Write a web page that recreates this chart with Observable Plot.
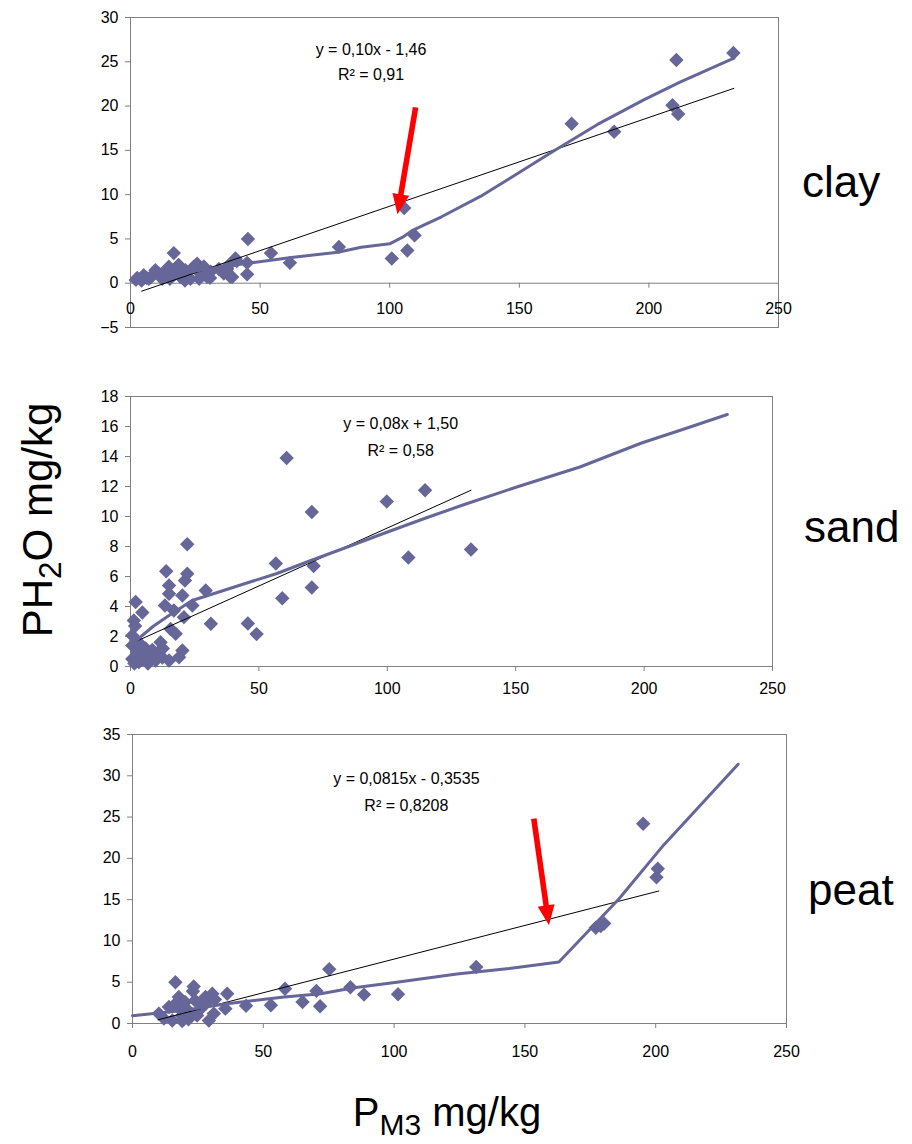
<!DOCTYPE html>
<html><head><meta charset="utf-8">
<script src="https://cdn.jsdelivr.net/npm/d3@7"></script>
<script src="https://cdn.jsdelivr.net/npm/@observablehq/plot@0.6"></script>
<style>
body{margin:0;background:#fff;}
#wrap{position:relative;width:912px;height:1144px;overflow:hidden;font-family:"Liberation Sans",Arial,sans-serif;color:#000;}
.panel{position:absolute;left:0;}
.lab{position:absolute;font-size:44px;line-height:1;white-space:nowrap;}
</style></head><body><div id="wrap"></div>
<script>
// ---------- DATA ----------
const xTicks = [0, 50, 100, 150, 200, 250];
const clayYTicks = [-5, 0, 5, 10, 15, 20, 25, 30];
const sandYTicks = [0, 2, 4, 6, 8, 10, 12, 14, 16, 18];
const peatYTicks = [0, 5, 10, 15, 20, 25, 30, 35];

const clayPoints = [[2.1,0.4],[2.6,0.6],[4.3,0.3],[5.1,0.9],[6.2,0.6],[7.1,0.5],[8.1,0.75],[9.6,1.47],[10.9,1.1],[12.0,1.05],[12.2,0.5],[13.5,1.3],[14.8,1.85],[15.2,0.5],[16.7,1.1],[16.7,3.4],[17.1,1.05],[18.4,2.0],[18.6,2.05],[19.3,0.7],[19.7,1.4],[21.0,0.3],[21.2,1.47],[23.1,0.5],[24.4,1.85],[25.7,2.2],[26.5,0.5],[27.0,1.1],[28.3,1.9],[29.6,0.7],[30.7,0.6],[30.9,1.3],[34.1,1.6],[36.0,1.1],[37.3,1.6],[37.8,2.0],[38.4,0.75],[39.2,0.7],[40.5,2.8],[41.0,2.5],[45.0,1.0],[45.0,2.3],[45.3,5.0],[54.2,3.4],[61.5,2.3],[80.4,4.1],[100.8,2.8],[105.6,8.5],[106.8,3.7],[109.6,5.4],[170.2,18.0],[186.6,17.1],[209.1,20.1],[210.6,25.2],[211.3,19.1],[232.6,26.0]];
const clayCurve = [[0,0.35],[15,0.9],[30,1.6],[45,2.25],[62,2.9],[80,3.5],[89,4.05],[100,4.45],[105,5.2],[109,6.0],[120,7.5],[135,9.8],[145,11.6],[162,14.7],[180,17.9],[198,20.7],[212,22.7],[232.8,25.4]];
const clayTrend = [[4.3,-0.9],[232.8,22.0]];
const clayEquation = ["y = 0,10x - 1,46", "R² = 0,91"];
const clayArrow = {x1: 110, y1: 19.85, x2: 103, y2: 7.8};

const sandPoints = [[0.7,0.5],[0.7,1.4],[0.7,2.07],[1.3,3.07],[1.5,0.2],[1.8,2.7],[2.0,4.3],[2.2,1.7],[2.6,0.96],[3.3,0.3],[3.8,1.5],[4.6,0.5],[4.6,3.6],[5.9,1.2],[6.8,0.2],[7.8,0.73],[8.5,1.1],[9.8,0.4],[11.1,1.0],[11.7,1.62],[12.4,0.6],[12.6,1.2],[15.0,0.4],[13.4,4.07],[13.9,6.35],[15.0,5.4],[15.0,4.85],[15.6,2.5],[16.9,3.73],[17.6,2.18],[18.9,0.62],[20.2,1.07],[20.2,4.73],[20.8,3.29],[21.2,5.73],[22.1,6.18],[22.1,8.15],[24.1,4.07],[29.3,5.07],[31.3,2.85],[45.7,2.87],[49.1,2.16],[56.6,6.87],[59.1,4.55],[60.8,13.9],[70.6,10.3],[70.6,5.27],[71.3,6.7],[99.8,11.0],[108.2,7.27],[114.7,11.75],[132.6,7.8]];
const sandCurve = [[1.3,1.6],[9,2.7],[15,3.4],[24,4.4],[35,5.0],[45,5.55],[57,6.2],[70,7.05],[85,8.0],[99,8.9],[115,9.9],[130,10.8],[151,12.0],[175,13.3],[199,14.9],[215,15.8],[232.4,16.8]];
const sandTrend = [[2.0,1.66],[132.6,11.75]];
const sandEquation = ["y = 0,08x + 1,50", "R² = 0,58"];

const peatPoints = [[10.1,1.2],[12.0,0.6],[13.9,2.0],[15.2,0.36],[16.4,2.4],[16.4,5.0],[17.7,3.2],[18.0,1.8],[18.9,0.95],[19.0,0.3],[20.1,2.6],[21.4,1.55],[21.4,0.5],[22.0,1.2],[23.1,3.9],[23.4,4.48],[23.9,2.8],[24.7,0.97],[25.5,1.6],[26.6,2.2],[27.9,3.2],[28.0,2.4],[29.2,0.36],[30.5,3.6],[31.1,1.2],[31.5,2.9],[35.5,1.8],[36.2,3.6],[43.4,2.15],[52.9,2.2],[58.3,4.2],[65.0,2.6],[70.3,3.95],[71.7,2.1],[75.2,6.57],[83.3,4.4],[88.5,3.5],[101.5,3.55],[131.4,6.85],[177.1,11.6],[179.0,11.8],[180.3,12.1],[195.2,24.2],[200.3,17.7],[200.8,18.75]];
const peatCurve = [[0,0.95],[20,1.6],[36,2.4],[58,3.2],[72,3.6],[84,4.3],[101,5.0],[124,6.0],[144,6.65],[163,7.45],[177,12.1],[186,15.1],[203,21.6],[231.5,31.4]];
const peatTrend = [[9.8,0.45],[201.2,16.05]];
const peatEquation = ["y = 0,0815x - 0,3535", "R² = 0,8208"];
const peatArrow = {x1: 153.4, y1: 24.8, x2: 159.2, y2: 11.9};

// equation label anchors (data coordinates, two lines)
const clayEqPos = [[92.8,26.3],[92.8,23.5]];
const sandEqPos = [[105.2,16.2],[105.2,14.35]];
const peatEqPos = [[104.7,29.6],[104.7,26.4]];

// ---------- DRAWING ----------
const PURPLE = "#666699";
const GRAY = "#808080";
const wrap = document.getElementById("wrap");

function arrowMark(a, L) {
  const kx = (L.W - L.ml - L.mr) / 250;
  const ky = (L.H - L.mt - L.mb) / (L.yDomain[1] - L.yDomain[0]);
  const dx = (a.x2 - a.x1) * kx, dy = -(a.y2 - a.y1) * ky;
  const len = Math.hypot(dx, dy);
  const rot = Math.atan2(dx, -dy) * 180 / Math.PI;
  const shape = {
    draw(ctx, l) {
      const sw = 2.8, hw = 8.5, hl = 20;
      ctx.moveTo(-sw, 0); ctx.lineTo(-sw, -l + hl); ctx.lineTo(-hw, -l + hl);
      ctx.lineTo(0, -l); ctx.lineTo(hw, -l + hl); ctx.lineTo(sw, -l + hl);
      ctx.lineTo(sw, 0); ctx.closePath();
    }
  };
  return Plot.vector([a], {x: "x1", y: "y1", length: len, rotate: rot, anchor: "start",
    shape, fill: "#ff0000", stroke: "none"});
}

function panel(pts, curve, trend, eq, eqPos, yTicks, L, arrow) {
  const marks = [
    Plot.frame({stroke: GRAY}),
    Plot.axisY(yTicks, {tickSize: 5, tickPadding: 7, fontSize: 16, stroke: GRAY, fill: "black", label: null})
  ];
  if (L.zeroAxis) {
    marks.push(Plot.ruleY([0], {stroke: GRAY}));
    marks.push(Plot.ruleX(xTicks.slice(1), {x: d => d, y1: 0, y2: 0, insetBottom: -5, stroke: GRAY}));
    marks.push(Plot.text(xTicks, {x: d => d, y: 0, dy: 26, text: d => String(d), fontSize: 16, fill: "black"}));
  } else {
    marks.push(Plot.axisX(xTicks, {tickSize: 5, tickPadding: L.tickPad, fontSize: 16, stroke: GRAY, fill: "black", label: null}));
  }
  marks.push(
    Plot.dot(pts, {x: d => d[0], y: d => d[1], symbol: "diamond2", r: 6.5, fill: PURPLE, stroke: "none"}),
    Plot.line(trend, {x: d => d[0], y: d => d[1], stroke: "black", strokeWidth: 1}),
    Plot.line(curve, {x: d => d[0], y: d => d[1], stroke: PURPLE, strokeWidth: 3, strokeLinejoin: "round"}),
    Plot.text(eq.map((t, i) => ({t, x: eqPos[i][0], y: eqPos[i][1]})), {x: "x", y: "y", text: "t", fontSize: 16, fill: "black"})
  );
  if (arrow) marks.push(arrowMark(arrow, L));
  const svg = Plot.plot({
    width: L.W, height: L.H,
    marginLeft: L.ml, marginRight: L.mr, marginTop: L.mt, marginBottom: L.mb,
    x: {domain: [0, 250], axis: null, label: null},
    y: {domain: L.yDomain, axis: null, label: null},
    style: {fontFamily: "'Liberation Sans', Arial, sans-serif", background: "transparent", overflow: "visible"},
    marks
  });
  svg.classList.add("panel");
  svg.style.top = L.top + "px";
  wrap.appendChild(svg);
}

const L1 = {W: 800, H: 337, ml: 130, mr: 22, mt: 17, mb: 10, top: 0, yDomain: [-5, 30], zeroAxis: true};
const L2 = {W: 800, H: 316, ml: 130, mr: 28, mt: 16, mb: 30, top: 380, yDomain: [0, 18], tickPad: 11};
const L3 = {W: 800, H: 343, ml: 132, mr: 14, mt: 14, mb: 40, top: 720, yDomain: [0, 35], tickPad: 17};

panel(clayPoints, clayCurve, clayTrend, clayEquation, clayEqPos, clayYTicks, L1, clayArrow);
panel(sandPoints, sandCurve, sandTrend, sandEquation, sandEqPos, sandYTicks, L2, null);
panel(peatPoints, peatCurve, peatTrend, peatEquation, peatEqPos, peatYTicks, L3, peatArrow);

function addLabel(html, css) {
  const d = document.createElement("div");
  d.className = "lab";
  d.innerHTML = html;
  Object.assign(d.style, css);
  wrap.appendChild(d);
  return d;
}
addLabel("clay", {left: "802px", top: "160px"});
addLabel("sand", {left: "804px", top: "505px"});
addLabel("peat", {left: "808px", top: "868px"});
addLabel('P<span style="font-size:0.75em;position:relative;top:0.3em">M3</span> mg/kg',
  {left: "447px", top: "1092px", fontSize: "40px", transform: "translateX(-50%)"});
addLabel('PH<span style="font-size:0.75em;position:relative;top:0.3em">2</span>O mg/kg',
  {left: "38px", top: "520px", fontSize: "42px", transform: "translate(-50%,-50%) rotate(-90deg)"});
</script></body></html>
